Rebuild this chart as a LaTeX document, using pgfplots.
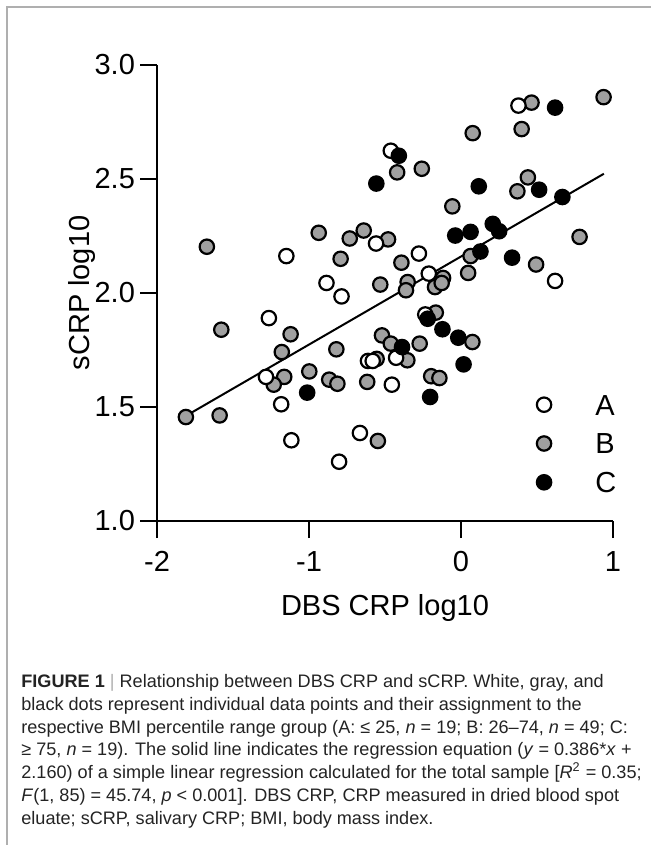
\documentclass[border=0pt]{standalone}
\usepackage{pgfplots}
\pgfplotsset{compat=1.18}
\usepackage{fontspec}
\setmainfont{Liberation Sans}
\definecolor{dotgray}{RGB}{160,160,160}
\definecolor{framegray}{RGB}{175,175,175}
\definecolor{captext}{RGB}{35,35,35}

% group A (white), BMI percentile <= 25
\pgfplotstableread{
x y
0.378 2.822
-0.462 2.624
-0.559 2.217
-1.149 2.162
-0.277 2.173
0.619 2.053
-0.212 2.085
-0.885 2.044
-0.786 1.985
-1.264 1.890
-0.235 1.906
-0.427 1.716
-1.283 1.632
-0.455 1.598
-1.183 1.512
-0.665 1.386
-1.116 1.354
-0.802 1.260
-0.612 1.702
-0.581 1.702
}\groupA

% group B (gray), 26-74
\pgfplotstableread{
x y
0.938 2.859
0.464 2.835
0.077 2.701
0.399 2.719
-0.420 2.529
-0.258 2.545
0.440 2.507
0.371 2.446
-0.057 2.380
-0.936 2.264
-0.732 2.239
-0.640 2.274
-0.480 2.235
-1.672 2.203
-0.792 2.150
0.780 2.246
-0.392 2.133
0.063 2.162
0.494 2.125
0.047 2.088
-0.118 2.066
-0.171 2.026
-0.127 2.044
-0.351 2.048
-0.362 2.012
-0.531 2.037
-1.577 1.839
-1.121 1.819
-1.179 1.741
-0.820 1.753
-0.166 1.914
0.075 1.785
-0.520 1.814
-0.462 1.778
-0.272 1.778
-0.353 1.705
-0.555 1.711
-0.998 1.656
-1.163 1.632
-1.232 1.598
-0.867 1.620
-0.813 1.602
-0.617 1.610
-0.196 1.635
-0.142 1.627
-1.810 1.456
-1.588 1.463
-0.547 1.351
}\groupB

% group C (black), >= 75
\pgfplotstableread{
x y
0.619 2.813
-0.409 2.602
-0.557 2.480
0.117 2.468
0.514 2.453
0.667 2.421
-0.038 2.252
0.063 2.268
0.209 2.303
0.251 2.271
0.128 2.182
0.336 2.155
-0.219 1.887
-0.122 1.841
-0.018 1.804
-0.388 1.763
0.017 1.687
-1.012 1.563
-0.203 1.544
}\groupC

\begin{document}
\begin{tikzpicture}[x=0.5pt,y=-0.5pt]
\useasboundingbox (0,0) rectangle (650,845);
\draw[framegray, line width=0.8pt] (7,846) -- (7,7) -- (651,7);

\begin{axis}[
  at={(78.5pt,-260.5pt)}, anchor=south west,
  scale only axis, width=228pt, height=228pt,
  xmin=-2, xmax=1, ymin=1, ymax=3,
  axis lines=left,
  axis line style={-, line width=1.3pt},
  clip=false,
  xtick={-2,-1,0,1}, xticklabels={-2,-1,0,1},
  ytick={1,1.5,2,2.5,3}, yticklabels={1.0,1.5,2.0,2.5,3.0},
  tick align=outside, major tick length=8.5pt,
  tick style={line width=1.3pt, black},
  tick label style={font=\fontsize{14.5}{17}\selectfont},
  xticklabel style={yshift=-3pt},
  yticklabel style={xshift=1pt},
  xlabel={DBS CRP log10}, ylabel={sCRP log10},
  every axis x label/.style={at={(axis description cs:0.5,0)}, anchor=center,
    yshift=-43.5pt, font=\fontsize{14.5}{17}\selectfont},
  every axis y label/.style={at={(axis description cs:0,0.5)}, anchor=center,
    rotate=90, yshift=37.5pt, font=\fontsize{14.5}{17}\selectfont},
  legend style={draw=none, fill=none, at={(axis cs:0.457,1.575)}, anchor=north west,
    font=\fontsize{14.5}{17}\selectfont, row sep=9pt, column sep=22pt,
    nodes={inner sep=0pt, text height=10.4pt, text depth=0pt}},
  legend cell align=left,
  legend image code/.code={\draw[#1] plot coordinates {(0pt,0pt)};},
  every axis plot/.append style={mark size=3.6pt},
]
\addlegendimage{only marks, mark=*, mark options={fill=white, draw=black, line width=1.1pt}}
\addlegendentry{A}
\addlegendimage{only marks, mark=*, mark options={fill=dotgray, draw=black, line width=1.1pt}}
\addlegendentry{B}
\addlegendimage{only marks, mark=*, mark options={fill=black, draw=black, line width=1.1pt}}
\addlegendentry{C}

\addplot[black, line width=1pt, forget plot] coordinates {(-1.81,1.461) (0.94,2.523)};
\addplot[only marks, mark=*, mark options={fill=dotgray, draw=black, line width=1.1pt}, forget plot] table[x=x,y=y] {\groupB};
\addplot[only marks, mark=*, mark options={fill=white, draw=black, line width=1.1pt}, forget plot] table[x=x,y=y] {\groupA};
\addplot[only marks, mark=*, mark options={fill=black, draw=black, line width=1.1pt}, forget plot] table[x=x,y=y] {\groupC};
\end{axis}

\node[anchor=north west, align=left, inner sep=0pt, text=captext,
  font=\fontsize{9.05}{11.4}\selectfont] at (21,674) {%
\textbf{FIGURE 1} {\color{framegray}|} Relationship between DBS CRP and sCRP. White, gray, and\\
black dots represent individual data points and their assignment to the\\
respective BMI percentile range group (A: ≤ 25, \textit{n} = 19; B: 26–74, \textit{n} = 49; C:\\
≥ 75, \textit{n} = 19). The solid line indicates the regression equation (\textit{y} = 0.386*\textit{x} +\\
2.160) of a simple linear regression calculated for the total sample [\textit{R}\textsuperscript{2} = 0.35;\\
\textit{F}(1, 85) = 45.74, \textit{p} < 0.001]. DBS CRP, CRP measured in dried blood spot\\
eluate; sCRP, salivary CRP; BMI, body mass index.};
\end{tikzpicture}
\end{document}
